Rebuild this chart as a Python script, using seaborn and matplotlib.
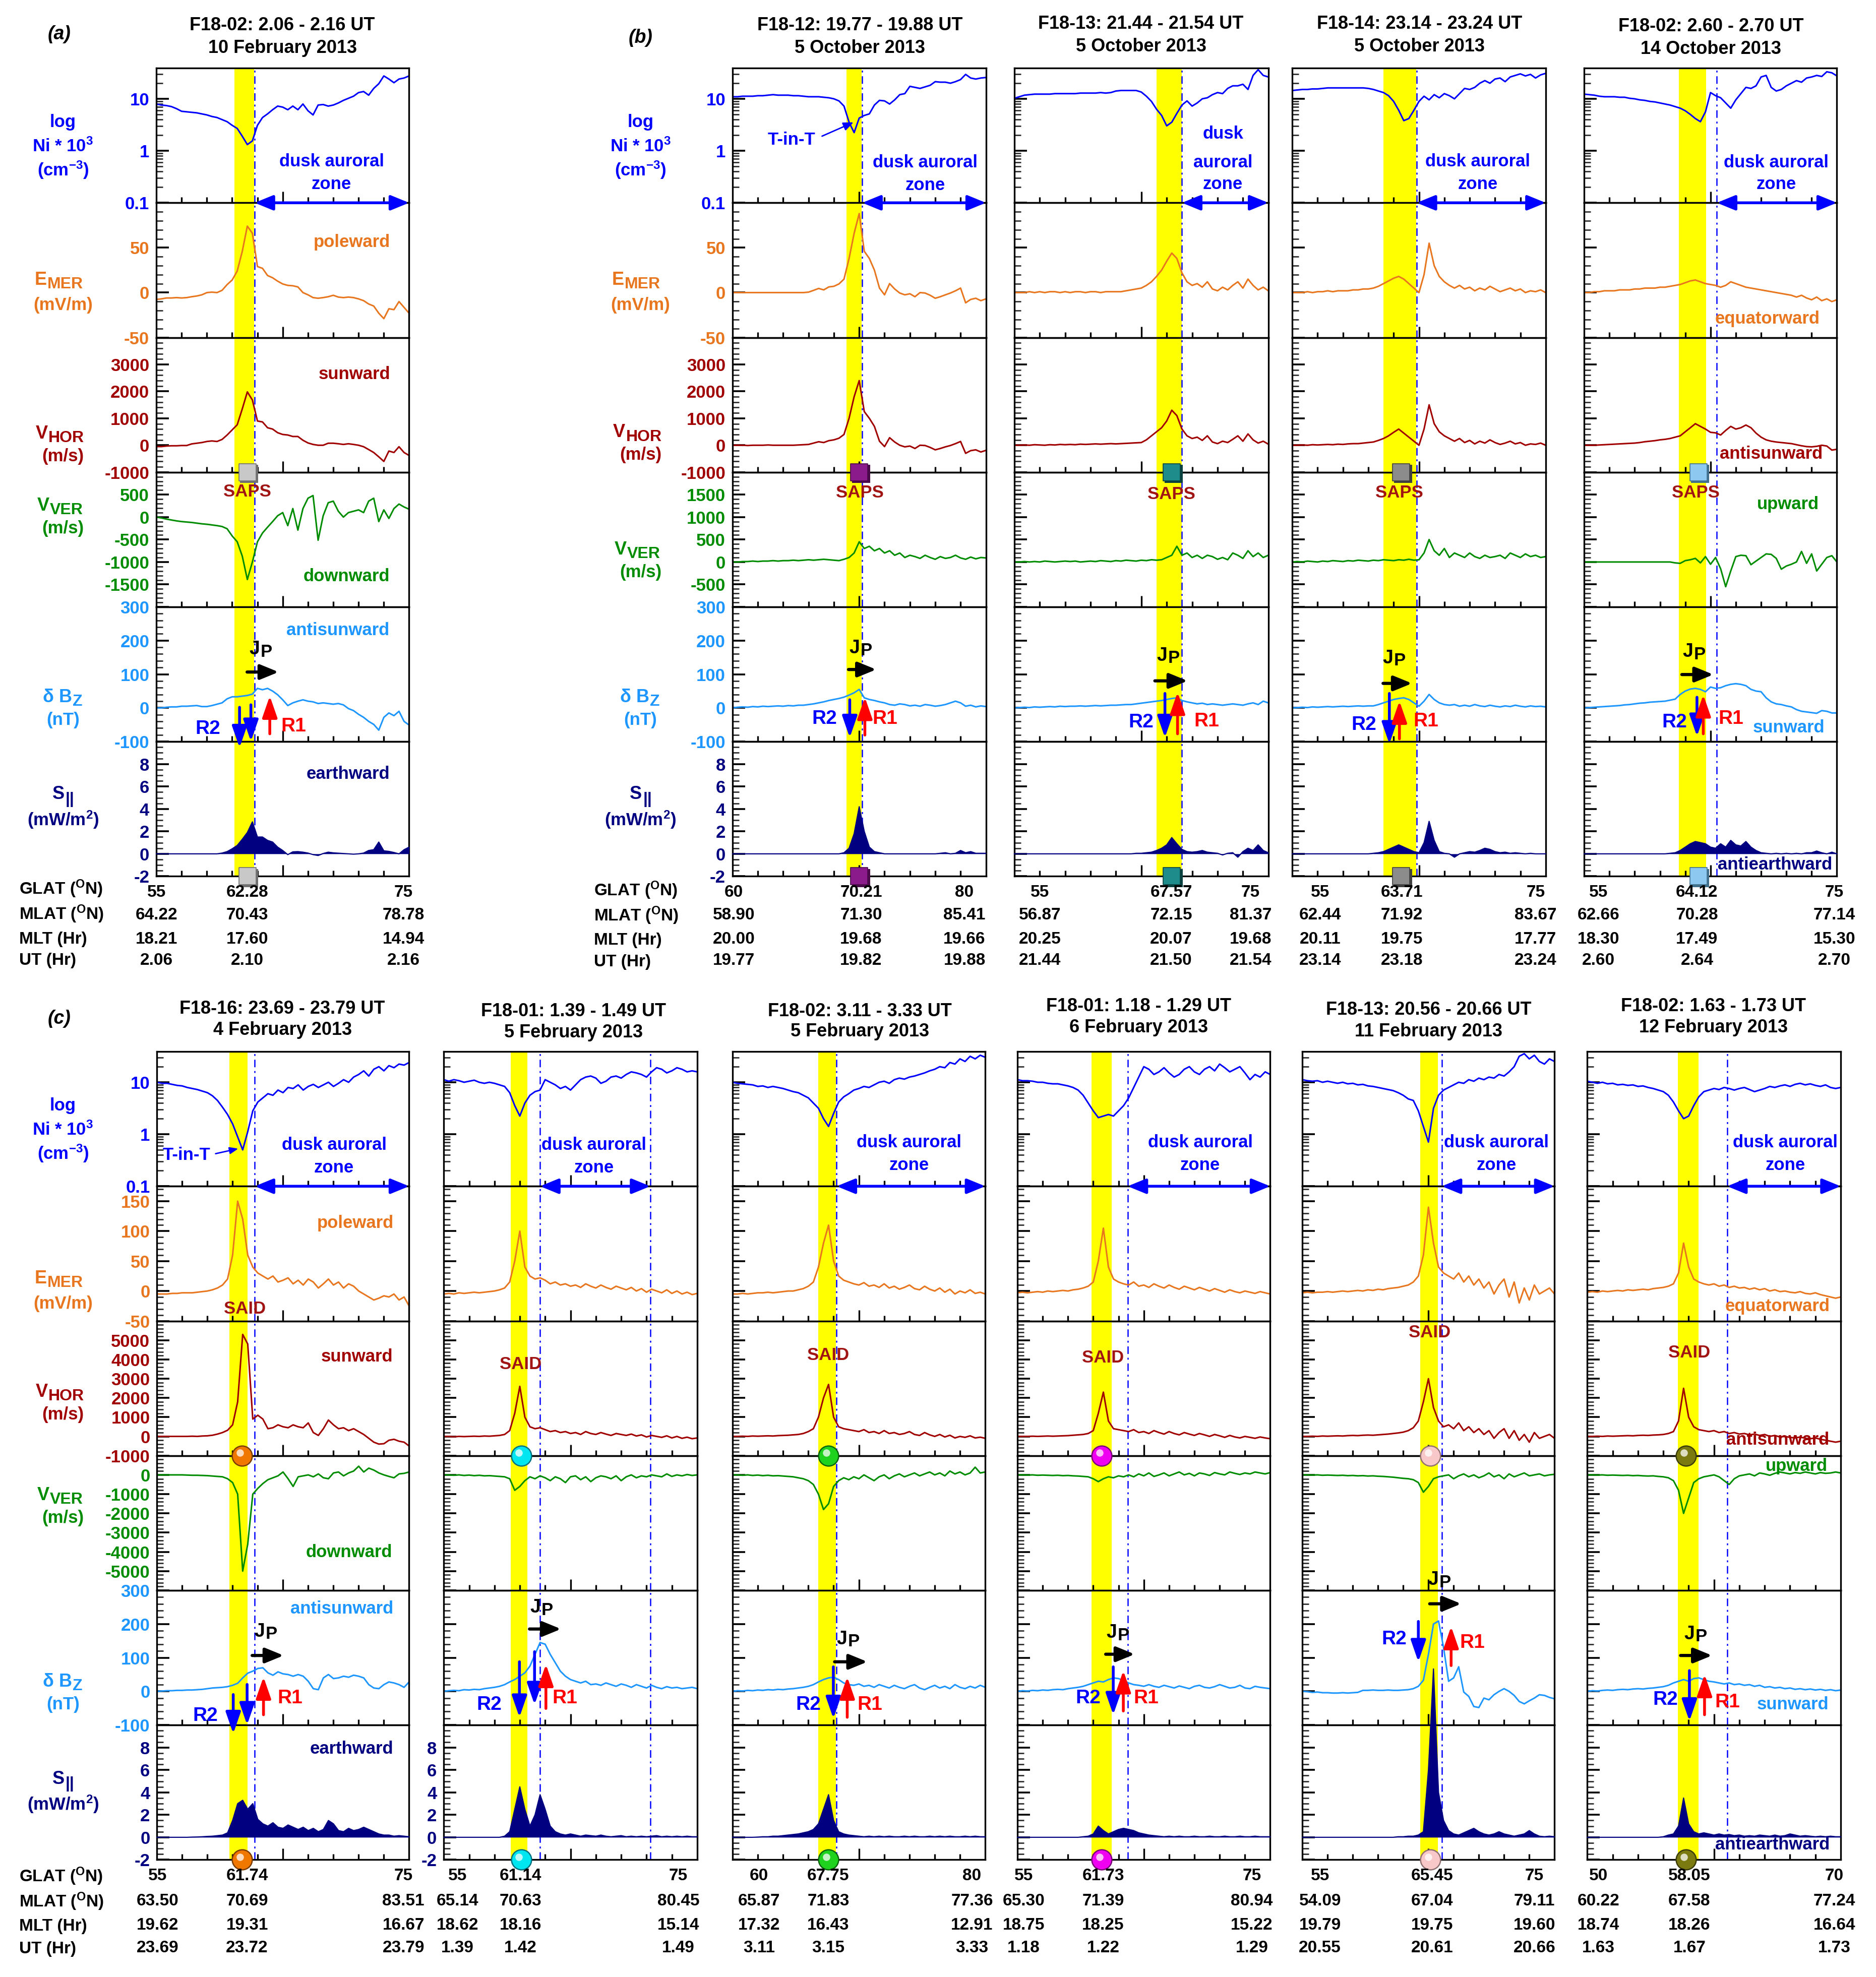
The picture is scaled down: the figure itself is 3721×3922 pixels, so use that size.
import numpy as np
import matplotlib
matplotlib.use("Agg")
import matplotlib.pyplot as plt
import seaborn as sns
from matplotlib.patches import FancyArrowPatch
from matplotlib.transforms import offset_copy
from matplotlib.ticker import FixedLocator, FixedFormatter, MultipleLocator, LogLocator, NullFormatter

# ------------------------------------------------------------------ data
# every trace: 51 samples equally spaced over the pass window (UT)
# rows: log10(Ni*1e3), E_MER (mV/m), V_HOR (m/s), V_VER (m/s), dBz (nT), S|| (mW/m2)

a_logni = [0.90,0.88,0.87,0.85,0.81,0.76,0.75,0.74,0.73,0.71,
           0.69,0.66,0.64,0.60,0.56,0.49,0.43,0.28,0.12,0.19,
           0.49,0.64,0.71,0.79,0.86,0.84,0.79,0.86,0.79,0.90,
           0.77,0.69,0.88,0.89,0.86,0.88,0.92,0.97,1.01,1.05,
           1.12,1.14,1.07,1.20,1.29,1.44,1.38,1.31,1.38,1.40,1.44]
a_emer = [-7.6,-7,-6,-6,-5.6,-6,-5.6,-4.6,-3.8,-2.5,
          0,0.5,0,2.5,8.9,14,24,46,74,66,
          29,27,19,16.5,12.7,9.6,8,7.6,6.3,0,
          -2.5,-5.6,-6.3,-5.6,-4.6,-3,-5,-5.6,-5,-5.6,
          -7,-9,-12.7,-15,-23,-29,-18,-19,-10,-16.5,-23]
a_vhor = [-50,-50,-30,-20,-20,-10,-10,50,75,100,
          140,160,140,215,380,570,760,1350,1980,1680,
          900,865,650,600,465,400,380,325,325,185,
          85,30,0,0,75,75,55,30,55,30,
          0,-55,-160,-270,-430,-600,-215,-270,-55,-270,-380]
a_vver = [0,-20,-45,-65,-85,-100,-110,-120,-135,-150,
          -160,-175,-190,-210,-260,-420,-550,-870,-1390,-1000,
          -550,-355,-225,-100,30,100,-190,190,-290,190,
          420,480,-515,30,320,355,130,0,100,130,
          160,100,355,420,-100,160,-30,190,290,225,175]
a_dbz = [0,0,2,3,3,5,5,6,7,4,
         4,7,11,15,27,33,33,35,37,41,
         58,54,58,50,39,24,7,15,20,24,
         20,18,13,15,13,11,13,9,-2,-8,
         -19,-28,-40,-49,-66,-28,-15,-23,-10,-40,-51]
a_spar = [0,0,0,0,0,0,0,0,0,0,
          0,0,0,0.07,0.2,0.45,0.75,1.3,1.9,2.85,
          1.5,1.5,1.2,1.05,0.6,0.3,-0.07,0.18,0.2,0.15,
          0.07,-0.07,-0.15,0.03,0.15,0.09,0.06,0.03,0,-0.03,
          0,0.07,0.3,0.37,1.05,0.27,0.22,0.12,0,0.37,0.6]

b1_logni = [1.04,1.04,1.05,1.05,1.05,1.06,1.06,1.07,1.08,1.07,
            1.07,1.07,1.06,1.06,1.05,1.04,1.04,1.04,1.03,1.02,
            1.00,0.96,0.86,0.55,0.35,0.63,0.68,0.71,0.88,0.97,
            0.96,0.90,0.98,1.08,1.10,1.24,1.22,1.20,1.23,1.26,
            1.33,1.32,1.32,1.30,1.33,1.37,1.47,1.40,1.38,1.40,1.41]
b1_emer = [0,0,0,0,0,0,0,0,0,0,
           0,0,0,0,0,0.5,2.5,4.6,3,6.3,
           7,9.6,15,38,66,88,46,38,25,5,
           -2.5,10,4,-0.5,-2.5,-1.3,-4.6,0,-0.5,-3,
           -6.3,-4.6,-2.5,-0.5,2,5,-11.4,-7.6,-6.3,-9,-7]
b1_vhor = [0,0,0,-10,0,0,0,10,0,0,
           0,0,0,10,20,30,80,130,100,170,
           200,260,400,1000,1800,2400,1250,1000,700,150,
           -50,280,120,0,-60,-30,-120,0,-10,-80,
           -170,-120,-60,-10,60,140,-300,-200,-170,-250,-190]
b1_vver = [0,0,10,10,20,10,20,20,30,20,
           30,30,40,30,40,50,40,50,60,50,
           40,30,60,100,200,450,300,350,250,300,
           200,250,150,200,100,150,120,80,150,100,
           60,120,80,100,150,90,60,110,70,100,90]
b1_dbz = [0,2,3,2,4,3,5,4,5,6,
          5,7,6,8,8,10,12,15,18,22,
          25,28,32,38,45,55,30,25,22,18,
          15,10,8,12,10,6,8,5,10,8,
          5,7,10,15,20,15,5,8,3,6,4]
b1_spar = [0,0,0,0,0,0,0,0,0,0,
           0,0,0,0,0,0,0,0,0,0,
           0,0,0.1,0.5,1.8,4.2,2.0,0.6,0.2,0.1,
           0,0,0,0,0,0,0,0,0,0,
           0,0.05,0.1,0,0.05,0.3,0.1,0.2,0.05,0.05,0.05]

b2_logni = [1.01,1.04,1.07,1.08,1.09,1.09,1.09,1.09,1.10,1.10,
            1.10,1.10,1.10,1.11,1.11,1.11,1.11,1.12,1.11,1.12,
            1.15,1.16,1.16,1.16,1.16,1.13,1.05,0.95,0.80,0.68,
            0.48,0.55,0.72,0.88,0.96,0.86,0.92,1.00,1.02,1.08,
            1.12,1.10,1.20,1.25,1.25,1.28,1.18,1.45,1.56,1.45,1.42]
b2_emer = [0,0,0,1,0,1,0,1,1,0,
           1,0,1,1,0,1,1,0,1,1,
           1,1,2,3,4,5,8,12,18,25,
           35,44,38,22,12,8,10,6,12,4,
           2,6,3,8,12,5,15,8,3,6,2]
b2_vhor = [0,0,10,0,20,10,0,20,10,30,
           20,30,20,40,30,40,50,40,50,60,
           50,60,70,80,90,100,200,350,500,650,
           900,1300,1100,600,350,250,300,180,350,120,
           60,150,100,220,350,150,420,200,80,150,40]
b2_vver = [0,0,10,0,10,0,20,10,0,10,
           20,10,20,0,10,20,10,30,20,10,
           30,20,40,30,20,40,30,50,40,50,
           100,150,350,150,200,100,150,80,150,120,
           60,100,50,200,150,80,250,120,200,100,150]
b2_dbz = [0,1,2,1,3,2,3,4,3,5,
          4,5,5,6,5,6,7,6,7,8,
          8,9,10,10,12,14,16,18,20,22,
          25,28,30,22,18,15,12,14,10,12,
          10,8,10,12,10,8,12,15,10,20,15]
b2_spar = [0,0,0,0,0,0,0,0,0,0,
           0,0,0,0,0,0,0,0,0,0,
           0,0,0,0,0.05,0.05,0.1,0.15,0.3,0.5,
           0.8,1.45,0.9,0.4,0.2,0.15,0.2,0.3,0.15,0.1,
           0.05,-0.1,0.05,0.1,-0.3,0.2,0.5,0.3,0.8,0.3,0.1]

b3_logni = [1.16,1.17,1.18,1.18,1.19,1.19,1.20,1.21,1.21,1.21,
            1.21,1.21,1.21,1.21,1.21,1.20,1.18,1.15,1.12,1.06,
            0.95,0.78,0.58,0.62,0.78,0.95,1.05,0.98,1.08,1.02,
            1.10,1.06,1.00,1.10,1.20,1.18,1.22,1.30,1.35,1.30,
            1.38,1.40,1.33,1.42,1.45,1.48,1.44,1.47,1.40,1.46,1.49]
b3_emer = [0,0,0,1,0,1,1,2,1,2,
           2,2,3,3,4,4,5,7,10,13,
           16,18,15,10,5,0,20,55,30,18,
           12,8,5,8,4,6,2,5,3,7,
           4,1,3,5,2,4,0,2,1,3,0]
b3_vhor = [0,0,10,0,20,10,20,30,20,40,
           30,50,60,60,80,100,120,180,250,350,
           480,600,450,300,150,0,600,1500,800,500,
           350,250,150,250,100,180,50,150,80,200,
           100,30,80,150,50,100,0,50,30,80,0]
b3_vver = [0,10,0,20,10,0,20,10,30,20,
           10,30,20,40,30,20,40,30,50,40,
           30,50,40,60,40,50,200,500,250,150,
           300,100,200,150,100,200,120,80,150,100,
           120,150,80,200,150,100,180,120,150,100,120]
b3_dbz = [0,1,2,1,3,2,3,4,3,4,
          5,4,5,6,5,6,6,10,15,20,
          25,28,30,25,15,5,20,40,25,15,
          10,8,10,5,8,5,10,6,4,8,
          5,3,6,4,8,5,3,6,4,5,3]
b3_spar = [0,0,0,0,0,0,0,0,0,0,
           0,0,0,0,0,0,0.05,0.1,0.2,0.4,
           0.6,0.8,0.6,0.4,0.2,0.1,1.0,2.9,1.2,0.2,
           0.05,0,-0.3,0,0.1,0.2,0.15,0.3,0.5,0.4,
           0.2,0.1,0.15,0.05,0.1,0.05,0,0.05,0,0,0]

b4_logni = [1.09,1.08,1.07,1.05,1.04,1.04,1.04,1.03,1.03,1.01,
            1.00,0.98,0.97,0.95,0.94,0.92,0.90,0.88,0.85,0.82,
            0.77,0.70,0.62,0.56,0.75,1.12,1.06,1.02,0.92,0.82,
            0.98,1.10,1.22,1.20,1.25,1.42,1.45,1.22,1.15,1.18,
            1.25,1.30,1.35,1.32,1.40,1.42,1.45,1.43,1.52,1.50,1.44]
b4_emer = [0,0,1,1,2,2,2,3,3,3,
           4,4,5,5,5,6,6,7,8,9,
           11,13,14,12,10,9,8,6,8,12,
           10,8,6,5,4,3,2,1,0,-1,
           -2,-3,-5,-3,-6,-8,-5,-9,-7,-10,-8]
b4_vhor = [0,0,0,10,20,30,40,50,60,70,
           80,100,130,150,170,200,220,250,300,350,
           500,650,800,700,600,480,460,380,550,700,
           600,650,750,650,450,300,200,150,120,100,
           80,60,20,-20,-50,-60,-40,0,-30,-180,-150]
b4_vver = [0,0,0,0,0,0,0,0,0,0,
           0,0,0,0,0,0,0,0,-20,-30,
           30,50,80,-20,120,-50,100,-150,-550,-200,
           120,150,140,-60,20,100,180,170,80,-160,
           -90,-50,0,235,-30,180,-200,-50,100,140,0]
b4_dbz = [0,1,2,3,4,5,6,7,9,10,
          12,14,15,17,18,19,20,23,26,40,
          50,56,58,55,48,62,58,60,66,70,
          72,70,66,55,50,48,30,18,12,10,
          6,3,-5,-10,-12,-14,-16,-8,-10,-15,-15]
b4_spar = [0,0,0,0,0,0,0,0,0,0,
           0,0,0,0,0,0,0,0.05,0.1,0.3,
           0.6,0.9,1.1,1.0,0.9,0.6,0.5,0.9,0.6,1.2,
           0.8,0.7,1.1,0.6,0.3,0.1,0.05,0,0.05,0,
           0.05,0,0.05,0,0.1,0.1,0.25,0.1,0,0.15,0]

c1_logni = [1.00,0.98,0.98,0.96,0.94,0.93,0.90,0.88,0.86,0.83,
            0.80,0.74,0.65,0.52,0.38,0.20,-0.05,-0.30,0.05,0.45,
            0.62,0.70,0.78,0.75,0.85,0.80,0.90,0.88,0.95,0.85,
            0.92,0.96,0.90,0.95,1.00,0.92,0.98,1.05,1.00,1.10,
            1.15,1.22,1.12,1.25,1.30,1.22,1.32,1.28,1.35,1.33,1.38]
c1_emer = [-5,-5,-5,-4,-4,-3,-3,-3,-2,-1,
           0,2,5,10,20,60,150,120,60,40,
           30,25,20,25,15,18,22,12,18,10,
           20,15,5,12,20,10,15,5,12,8,
           0,-5,-10,-15,-12,-8,-10,-5,-15,-10,-25]
c1_vhor = [0,0,0,0,0,0,0,10,0,20,
           30,60,120,200,320,600,1800,5300,4800,900,
           1100,900,400,450,600,500,450,600,500,450,
           700,200,50,400,850,600,400,450,300,400,
           250,100,-100,-300,-400,-380,-200,-150,-250,-300,-500]
c1_vver = [0,0,0,0,0,0,-10,-20,-20,-30,
           -40,-60,-80,-100,-200,-400,-1000,-5000,-3600,-1000,
           -700,-450,-250,-150,-50,150,-200,-600,-100,-50,
           0,-100,50,-150,-200,100,150,-50,100,200,
           450,150,350,250,100,0,-80,-150,50,80,150]
c1_dbz = [0,1,2,2,3,3,4,4,5,6,
          8,10,11,12,14,18,24,40,54,60,
          68,70,55,48,58,52,50,45,50,45,
          30,8,5,40,50,38,40,45,42,48,
          45,40,20,10,8,20,28,25,20,12,28]
c1_spar = [0,0,0,0,0,0,0,0.02,0.03,0.05,
           0.08,0.1,0.15,0.2,0.4,1.5,3.0,3.3,2.5,3.0,
           1.6,1.2,1.0,1.3,0.9,0.8,1.1,0.9,0.7,0.9,
           0.6,0.8,0.5,0.7,1.5,1.2,0.6,0.5,0.8,0.6,
           0.7,0.9,0.7,0.5,0.3,0.2,0.2,0.1,0.15,0.1,0.05]

c2_logni = [1.05,1.02,1.05,1.03,1.00,1.02,1.04,1.00,0.98,1.00,
            0.98,0.95,0.92,0.80,0.55,0.35,0.60,0.75,0.82,0.85,
            1.05,1.00,0.95,0.88,0.92,0.85,0.95,1.05,1.10,1.12,
            1.08,0.98,1.02,1.10,1.12,1.08,1.15,1.20,1.18,1.15,
            1.10,1.20,1.28,1.25,1.18,1.22,1.28,1.25,1.20,1.22,1.20]
c2_emer = [-5,-4,-5,-3,-4,-3,-2,-3,-2,-1,
           0,2,5,15,50,100,40,25,20,22,
           18,12,15,10,12,8,10,6,12,8,
           5,10,6,3,8,5,2,6,0,4,
           -2,3,0,-3,2,-4,0,-5,-2,-6,-4]
c2_vhor = [0,0,-20,0,-10,0,10,0,20,10,
           30,50,100,300,1200,2600,1000,500,400,450,
           350,250,300,200,250,150,200,100,250,150,
           100,200,120,50,150,100,50,120,20,80,
           -30,50,0,-50,30,-80,0,-100,-40,-120,-80]
c2_vver = [0,0,-20,0,-30,-10,-40,-20,-50,-40,
           -60,-80,-100,-200,-800,-600,-300,-100,-200,-50,
           -150,-300,-100,-200,-400,-100,-50,-250,-100,-350,
           -150,-50,-100,-200,-50,-300,-100,0,-150,-50,
           -100,0,-50,-100,50,-80,0,-50,20,-30,0]
c2_dbz = [0,2,3,2,5,4,6,5,8,10,
          12,15,20,28,35,45,55,75,110,145,
          140,110,85,60,45,35,30,25,30,20,
          22,18,25,20,15,22,18,12,20,15,
          10,18,12,8,14,10,12,8,10,12,8]
c2_spar = [0,0,0,0,0,0,0,0,0,0,
           0,0,0.1,0.5,2.5,4.5,2.5,1.0,2.0,3.8,
           2.5,1.0,0.5,0.3,0.2,0.3,0.2,0.1,0.2,0.15,
           0.1,0.2,0.1,0.05,0.1,0.15,0.05,0.1,0.05,0.1,
           0.05,0.1,0.15,0.05,0.1,0.05,0.1,0.05,0.1,0.05,0.05]

c3_logni = [1.00,0.98,0.97,0.96,0.95,0.92,0.93,0.90,0.92,0.90,
            0.88,0.85,0.82,0.80,0.75,0.70,0.60,0.50,0.30,0.15,
            0.40,0.62,0.72,0.78,0.85,0.88,0.92,0.90,0.95,1.00,
            1.02,0.98,1.05,1.08,1.06,1.10,1.12,1.15,1.18,1.22,
            1.25,1.30,1.28,1.38,1.35,1.45,1.40,1.50,1.45,1.52,1.48]
c3_emer = [-5,-5,-4,-5,-4,-3,-3,-2,-3,-2,
           -1,0,0,2,4,8,15,40,80,110,
           50,25,18,15,12,10,14,8,10,6,
           12,5,8,3,6,10,4,2,8,3,
           0,5,-2,3,-5,0,-3,2,-4,-2,-5]
c3_vhor = [0,0,10,0,20,10,20,30,20,40,
           50,60,80,100,150,250,400,1000,2000,2700,
           1000,500,400,350,300,250,350,200,250,150,
           300,150,200,100,150,250,100,50,200,80,
           0,100,-30,60,-80,0,-50,30,-80,-40,-100]
c3_vver = [0,0,-20,0,-30,-10,-40,-20,-50,-40,
           -60,-80,-100,-150,-200,-300,-500,-1000,-1800,-1500,
           -600,-300,-150,-250,-100,-200,0,-150,-300,-100,
           0,-200,-50,50,-100,0,100,-50,50,150,
           0,100,-50,200,50,150,0,100,400,100,150]
c3_dbz = [0,2,1,3,2,4,3,5,4,6,
          5,7,8,10,12,15,20,28,35,40,
          42,35,25,20,18,22,15,18,12,20,
          15,10,18,12,8,15,20,10,5,12,
          18,10,15,8,20,12,8,15,10,18,12]
c3_spar = [0,0,0,0,0,0.02,0.05,0.05,0.1,0.1,
           0.15,0.2,0.25,0.3,0.4,0.5,0.7,1.2,2.5,3.8,
           1.5,0.5,0.3,0.2,0.15,0.1,0.05,0.1,0.05,0.1,
           0.05,0.1,0.05,0.05,0.1,0.05,0.1,0.05,0.05,0.1,
           0.05,0.1,0.05,0.1,0.05,0.05,0.1,0.05,0.1,0.05,0.05]

c4_logni = [1.05,1.03,1.03,1.02,1.00,1.00,0.98,0.97,0.97,0.95,
            0.93,0.90,0.85,0.75,0.60,0.45,0.32,0.35,0.38,0.35,
            0.45,0.55,0.70,0.90,1.10,1.30,1.25,1.15,1.20,1.28,
            1.18,1.10,1.15,1.25,1.30,1.20,1.15,1.25,1.30,1.22,
            1.35,1.28,1.20,1.25,1.30,1.18,1.05,1.15,1.10,1.20,1.15]
c4_emer = [-3,-2,-3,-2,-1,-2,0,-1,0,1,
           0,2,3,5,8,15,50,105,40,20,
           15,12,10,15,8,10,6,12,8,5,
           10,6,3,8,5,2,6,3,0,4,
           1,-2,2,-1,-3,0,-2,-4,-1,-3,-5]
c4_vhor = [0,0,0,10,0,10,20,10,20,30,
           40,60,80,100,150,300,1200,2300,800,400,
           350,300,250,350,200,250,150,300,200,120,
           250,150,80,200,120,50,150,80,0,100,
           30,-50,50,-30,-80,0,-50,-100,-30,-80,-120]
c4_vver = [0,0,-10,0,-20,-10,-20,-30,-20,-40,
           -30,-50,-60,-80,-100,-200,-350,-200,-100,-150,
           -50,-100,0,-100,50,-50,100,-80,0,100,
           -50,50,150,0,80,-50,100,50,-30,120,
           50,0,150,80,20,100,50,150,100,50,120]
c4_dbz = [0,2,1,3,2,4,3,5,6,5,
          8,10,12,15,20,25,30,28,35,40,
          38,32,25,20,18,15,20,15,12,18,
          14,10,16,12,8,15,18,12,10,14,
          20,15,10,12,18,10,8,15,12,10,8]
c4_spar = [0,0,0,0,0,0,0,0,0,0,
           0,0,0,0.05,0.1,0.3,1.0,0.6,0.3,0.5,
           0.7,0.8,0.7,0.6,0.4,0.3,0.2,0.15,0.1,0.05,
           0.1,0.05,0.1,0.05,0.05,0.1,0.05,0.05,0.1,0.05,
           0.05,0.1,0.05,0.05,0.1,0.05,0.05,0.1,0.05,0.05,0.05]

c5_logni = [1.05,1.03,1.02,1.03,1.00,1.02,1.00,0.98,1.00,0.97,
            0.98,0.95,0.96,0.93,0.92,0.90,0.88,0.86,0.84,0.80,
            0.75,0.68,0.65,0.45,0.15,-0.15,0.50,0.75,0.85,0.90,
            0.95,1.00,0.98,1.05,1.02,1.08,1.05,1.10,1.08,1.15,
            1.12,1.20,1.30,1.50,1.55,1.45,1.52,1.40,1.35,1.45,1.40]
c5_emer = [-3,-2,-3,-2,-2,-1,-2,-1,0,-1,
           0,1,0,2,1,3,2,4,5,6,
           8,10,15,25,60,140,80,40,30,25,
           20,30,15,25,10,20,5,15,-5,10,
           20,-10,15,-20,5,-15,10,-5,0,5,-5]
c5_vhor = [0,0,10,0,20,10,20,30,20,40,
           50,40,60,70,60,80,100,120,150,180,
           220,300,450,800,1800,3000,1500,800,500,600,
           400,700,300,500,200,400,100,300,-100,200,
           400,-100,300,-200,100,-300,200,-100,0,100,-100]
c5_vver = [0,0,-10,0,-20,-10,-20,-30,-20,-40,
           -30,-50,-40,-60,-50,-70,-80,-100,-120,-150,
           -180,-200,-250,-400,-900,-600,-200,-100,-50,0,
           -200,-50,50,-100,0,-150,-50,100,-100,0,
           -200,50,-100,0,100,-50,0,50,-50,0,30]
c5_dbz = [0,-1,-3,-2,-4,-4,-5,-5,-4,-5,
          -4,-3,3,3,4,3,3,4,3,3,
          4,5,8,15,33,110,200,209,130,30,
          40,73,-2,-15,-45,-48,-20,-25,-10,0,
          8,0,-12,-30,-37,-28,-20,-10,-12,-18,-22]
c5_spar = [0,0,0,0,0,0,0,0,0,0,
           0,0,0,0,0,0,0,0,0,0.05,
           0.05,0.1,0.1,0.2,0.5,6.0,15.0,4.0,1.5,0.6,
           0.3,0.2,0.4,0.6,0.8,0.5,0.3,0.2,0.3,0.5,
           0.3,0.2,0.1,0.2,0.3,0.6,0.3,0.1,0.05,0.1,0.05]

c6_logni = [1.02,1.00,0.98,1.00,0.97,0.98,0.95,0.96,0.94,0.95,
            0.92,0.93,0.90,0.88,0.85,0.82,0.75,0.62,0.45,0.30,
            0.35,0.55,0.72,0.82,0.85,0.88,0.86,0.90,0.88,0.85,
            0.88,0.90,0.86,0.82,0.85,0.88,0.92,0.90,0.93,0.95,
            0.92,0.96,0.98,0.95,0.97,0.94,0.92,0.95,0.90,0.88,0.90]
c6_emer = [-2,-1,-2,0,-1,0,1,0,2,1,
           2,3,2,4,5,6,8,12,30,80,
           40,20,15,12,10,12,8,10,6,8,
           5,6,3,5,2,4,0,2,-1,0,
           -2,-3,-1,-4,-5,-3,-6,-8,-10,-12,-10]
c6_vhor = [0,0,10,0,20,10,20,30,40,30,
           50,60,50,70,80,100,150,250,800,2500,
           1000,500,350,300,250,300,200,250,150,200,
           120,150,80,120,50,100,0,50,-30,0,
           -50,-80,-30,-100,-120,-80,-150,-200,-250,-300,-250]
c6_vver = [0,0,-10,0,-20,-10,-20,-30,-20,-40,
           -30,-50,-60,-50,-80,-100,-150,-300,-800,-2000,
           -1200,-400,-200,-100,-50,0,-100,-300,-500,-200,
           -50,0,50,-50,100,50,-20,80,150,100,
           50,120,80,150,100,50,120,80,100,150,100]
c6_dbz = [0,2,1,3,4,3,5,6,5,7,
          8,7,9,10,12,14,18,25,30,35,
          30,38,40,35,30,28,25,22,25,20,
          22,18,20,15,18,12,14,10,12,8,
          10,6,8,5,7,4,6,3,5,2,4]
c6_spar = [0,0,0,0,0,0,0,0,0,0,
           0,0,0,0,0,0.05,0.2,0.3,1.0,3.5,
           1.2,0.5,0.3,0.4,0.3,0.2,0.3,0.2,0.25,0.15,
           0.2,0.1,0.15,0.1,0.2,0.15,0.1,0.2,0.1,0.15,
           0.3,0.2,0.1,0.15,0.1,0.05,0.1,0.05,0.1,0.05,0.05]

# pass windows (UT hours) and headers
ut_windows = {'a': (2.06, 2.16), 'b1': (19.77, 19.88), 'b2': (21.44, 21.54), 'b3': (23.14, 23.24),
              'b4': (2.60, 2.70), 'c1': (23.69, 23.79), 'c2': (1.39, 1.49), 'c3': (3.11, 3.33),
              'c4': (1.18, 1.29), 'c5': (20.55, 20.66), 'c6': (1.63, 1.73)}
titles = {'a': ('F18-02: 2.06 - 2.16 UT', '10 February 2013'),
          'b1': ('F18-12: 19.77 - 19.88 UT', '5 October 2013'),
          'b2': ('F18-13: 21.44 - 21.54 UT', '5 October 2013'),
          'b3': ('F18-14: 23.14 - 23.24 UT', '5 October 2013'),
          'b4': ('F18-02: 2.60 - 2.70 UT', '14 October 2013'),
          'c1': ('F18-16: 23.69 - 23.79 UT', '4 February 2013'),
          'c2': ('F18-01: 1.39 - 1.49 UT', '5 February 2013'),
          'c3': ('F18-02: 3.11 - 3.33 UT', '5 February 2013'),
          'c4': ('F18-01: 1.18 - 1.29 UT', '6 February 2013'),
          'c5': ('F18-13: 20.56 - 20.66 UT', '11 February 2013'),
          'c6': ('F18-02: 1.63 - 1.73 UT', '12 February 2013')}
geo_labels = {
    'a':  (['55', '62.28', '75'], ['64.22', '70.43', '78.78'], ['18.21', '17.60', '14.94'], ['2.06', '2.10', '2.16']),
    'b1': (['60', '70.21', '80'], ['58.90', '71.30', '85.41'], ['20.00', '19.68', '19.66'], ['19.77', '19.82', '19.88']),
    'b2': (['55', '67.57', '75'], ['56.87', '72.15', '81.37'], ['20.25', '20.07', '19.68'], ['21.44', '21.50', '21.54']),
    'b3': (['55', '63.71', '75'], ['62.44', '71.92', '83.67'], ['20.11', '19.75', '17.77'], ['23.14', '23.18', '23.24']),
    'b4': (['55', '64.12', '75'], ['62.66', '70.28', '77.14'], ['18.30', '17.49', '15.30'], ['2.60', '2.64', '2.70']),
    'c1': (['55', '61.74', '75'], ['63.50', '70.69', '83.51'], ['19.62', '19.31', '16.67'], ['23.69', '23.72', '23.79']),
    'c2': (['55', '61.14', '75'], ['65.14', '70.63', '80.45'], ['18.62', '18.16', '15.14'], ['1.39', '1.42', '1.49']),
    'c3': (['60', '67.75', '80'], ['65.87', '71.83', '77.36'], ['17.32', '16.43', '12.91'], ['3.11', '3.15', '3.33']),
    'c4': (['55', '61.73', '75'], ['65.30', '71.39', '80.94'], ['18.75', '18.25', '15.22'], ['1.18', '1.22', '1.29']),
    'c5': (['55', '65.45', '75'], ['54.09', '67.04', '79.11'], ['19.79', '19.75', '19.60'], ['20.55', '20.61', '20.66']),
    'c6': (['50', '58.05', '70'], ['60.22', '67.58', '77.24'], ['18.74', '18.26', '16.64'], ['1.63', '1.67', '1.73']),
}
series = {
    'a': (a_logni, a_emer, a_vhor, a_vver, a_dbz, a_spar),
    'b1': (b1_logni, b1_emer, b1_vhor, b1_vver, b1_dbz, b1_spar),
    'b2': (b2_logni, b2_emer, b2_vhor, b2_vver, b2_dbz, b2_spar),
    'b3': (b3_logni, b3_emer, b3_vhor, b3_vver, b3_dbz, b3_spar),
    'b4': (b4_logni, b4_emer, b4_vhor, b4_vver, b4_dbz, b4_spar),
    'c1': (c1_logni, c1_emer, c1_vhor, c1_vver, c1_dbz, c1_spar),
    'c2': (c2_logni, c2_emer, c2_vhor, c2_vver, c2_dbz, c2_spar),
    'c3': (c3_logni, c3_emer, c3_vhor, c3_vver, c3_dbz, c3_spar),
    'c4': (c4_logni, c4_emer, c4_vhor, c4_vver, c4_dbz, c4_spar),
    'c5': (c5_logni, c5_emer, c5_vhor, c5_vver, c5_dbz, c5_spar),
    'c6': (c6_logni, c6_emer, c6_vhor, c6_vver, c6_dbz, c6_spar),
}

# ------------------------------------------------------------------ style
sns.set_theme(style="ticks")
plt.rcParams['font.family'] = ['Liberation Sans', 'DejaVu Sans']
plt.rcParams['font.weight'] = 'bold'
plt.rcParams['mathtext.fontset'] = 'custom'
plt.rcParams['mathtext.rm'] = 'Liberation Sans:bold'
plt.rcParams['mathtext.it'] = 'Liberation Sans:italic:bold'
plt.rcParams['mathtext.bf'] = 'Liberation Sans:bold'
plt.rcParams['mathtext.default'] = 'rm'
plt.rcParams['axes.unicode_minus'] = False

C_N, C_E, C_VH, C_VV, C_BZ, C_S = '#0000FF', '#E8761E', '#A00000', '#008C00', '#1E96FF', '#000080'
C_SAPS, C_YEL = '#A01414', '#FFFF00'
ROWC = [C_N, C_E, C_VH, C_VV, C_BZ, C_S]

SW, SH = 1488.0, 1568.0  # layout grid


def fx(x):
    return x / SW


def fy(y):
    return 1.0 - y / SH


fig = plt.figure(figsize=(37.21, 39.22), dpi=100)

LAY = {
    'a':  dict(x=(124.0, 324.5), rows=(54, 695), band=(0.308, 0.387), dash=(0.389,), zone=(0.389, 1.0), mark=0.36,
               mshape='s', mcolor='#C8C8C8', medge='#707070', title=(224, 20, 38), gx=(124, 196, 320)),
    'b1': dict(x=(581.0, 782.0), rows=(54, 695), band=(0.45, 0.51), dash=(0.512,), zone=(0.512, 1.0), mark=0.50,
               mshape='s', mcolor='#8B1A8B', medge='#4A0A4A', title=(682, 20, 38), gx=(582, 683, 765)),
    'b2': dict(x=(804.5, 1006.0), rows=(54, 695), band=(0.561, 0.659), dash=(0.66,), zone=(0.66, 1.0), mark=0.62,
               mshape='s', mcolor='#1F8C8C', medge='#0A4040', title=(905, 19, 37), gx=(825, 929, 992)),
    'b3': dict(x=(1025.0, 1226.0), rows=(54, 695), band=(0.36, 0.49), dash=(0.491,), zone=(0.491, 1.0), mark=0.43,
               mshape='s', mcolor='#8C8C8C', medge='#404040', title=(1126, 19, 37), gx=(1047, 1112, 1218)),
    'b4': dict(x=(1256.5, 1457.0), rows=(54, 695), band=(0.375, 0.482), dash=(0.525,), zone=(0.525, 1.0), mark=0.452,
               mshape='s', mcolor='#8CC8F0', medge='#40708C', title=(1357, 21, 39), gx=(1268, 1346, 1455)),
    'c1': dict(x=(124.5, 324.5), rows=(834, 1475), band=(0.288, 0.359), dash=(0.388,), zone=(0.388, 1.0), mark=0.337,
               mshape='o', mcolor='#F07800', medge='#7A3C00', title=(224, 800, 817), gx=(125, 196, 320)),
    'c2': dict(x=(352.0, 553.0), rows=(834, 1475), band=(0.265, 0.33), dash=(0.38, 0.815), zone=(0.38, 0.815), mark=0.305,
               mshape='o', mcolor='#00E6F0', medge='#007080', title=(455, 802, 819), gx=(363, 413, 538)),
    'c3': dict(x=(581.0, 781.5), rows=(834, 1475), band=(0.34, 0.41), dash=(0.412,), zone=(0.412, 1.0), mark=0.38,
               mshape='o', mcolor='#1ED21E', medge='#0A640A', title=(682, 802, 818), gx=(602, 657, 771)),
    'c4': dict(x=(807.0, 1007.5), rows=(834, 1475), band=(0.294, 0.373), dash=(0.436,), zone=(0.436, 1.0), mark=0.333,
               mshape='o', mcolor='#F000F0', medge='#780078', title=(903, 798, 815), gx=(812, 875, 993)),
    'c5': dict(x=(1033.0, 1233.0), rows=(834, 1475), band=(0.467, 0.538), dash=(0.553,), zone=(0.553, 1.0), mark=0.508,
               mshape='o', mcolor='#F8C8C8', medge='#907070', title=(1133, 801, 818), gx=(1047, 1136, 1217)),
    'c6': dict(x=(1259.0, 1460.0), rows=(834, 1475), band=(0.357, 0.438), dash=(0.552,), zone=(0.552, 1.0), mark=0.39,
               mshape='o', mcolor='#7A7A10', medge='#3C3C08', title=(1359, 798, 815), gx=(1268, 1340, 1455)),
}


def yspec(r, key):
    bot = key.startswith('c')
    if r == 0:
        return (0.1, 39), [0.1, 1, 10], None
    if r == 1:
        return ((-50, 175), [-50, 0, 50, 100, 150], 10) if bot else ((-50, 100), [-50, 0, 50], 10)
    if r == 2:
        return ((-1000, 6000), [-1000, 0, 1000, 2000, 3000, 4000, 5000], 200) if bot else \
               ((-1000, 4000), [-1000, 0, 1000, 2000, 3000], 200)
    if r == 3:
        if bot:
            return (-6000, 1000), [-5000, -4000, -3000, -2000, -1000, 0], 200
        if key == 'a':
            return (-2000, 1000), [-1500, -1000, -500, 0, 500], 100
        return (-1000, 2000), [-500, 0, 500, 1000, 1500], 100
    if r == 4:
        return (-100, 300), [-100, 0, 100, 200, 300], 20
    return (-2, 10), [-2, 0, 2, 4, 6, 8], 0.5


def label_fmt(v):
    return '0.1' if v == 0.1 else '%d' % v


def farrow(xa, ya, xb, yb, color, lw, style):
    p = FancyArrowPatch((fx(xa), fy(ya)), (fx(xb), fy(yb)), transform=fig.transFigure, arrowstyle=style,
                        color=color, lw=lw, shrinkA=0, shrinkB=0, mutation_scale=1, zorder=12)
    fig.add_artist(p)


def ftext(x, y, s, color='black', size=26, ha='center', style='normal'):
    fig.text(fx(x), fy(y), s, ha=ha, va='center', color=color, fontsize=size, weight='bold',
             fontstyle=style, zorder=10)


def build(key):
    L = LAY[key]
    x0, x1 = L['x']
    ytop, ybot = L['rows']
    rh = (ybot - ytop) / 6.0
    ut0, ut1 = ut_windows[key]
    span = ut1 - ut0
    axes = []
    for r in range(6):
        ax = fig.add_axes([fx(x0), fy(ytop + (r + 1) * rh), (x1 - x0) / SW, rh / SH])
        ax.patch.set_visible(False)
        ax.set_zorder(4 if r in (2, 5) else 2)
        if r == 0:
            ax.set_yscale('log')
        lim, majors, minor = yspec(r, key)
        ax.axvspan(ut0 + L['band'][0] * span, ut0 + L['band'][1] * span, color=C_YEL, lw=0, zorder=0)
        for d in L['dash']:
            ax.axvline(ut0 + d * span, color=C_N, lw=1.8, ls=(0, (6, 3, 1.5, 3)), zorder=1)
        vals = np.asarray(series[key][r], dtype=float)
        xs = np.linspace(ut0, ut1, len(vals))
        if r == 0:
            sns.lineplot(x=xs, y=10 ** vals, ax=ax, color=C_N, lw=2.2, legend=False)
        elif r == 5:
            ax.fill_between(xs, 0, vals, color=C_S, lw=0, clip_on=False, zorder=3)
            sns.lineplot(x=xs, y=vals, ax=ax, color=C_S, lw=1.6, legend=False, clip_on=False, zorder=3)
        else:
            sns.lineplot(x=xs, y=vals, ax=ax, color=ROWC[r], lw=2.2, legend=False)
        ax.set_xlim(ut0, ut1)
        ax.set_ylim(*lim)
        ax.set_xlabel('')
        ax.set_ylabel('')
        for s in ax.spines.values():
            s.set_visible(True)
            s.set_linewidth(2.4)
            s.set_color('black')
        ax.xaxis.set_major_locator(FixedLocator([ut0 + 0.5 * span]))
        ax.xaxis.set_minor_locator(FixedLocator([ut0 + i * span / 10 for i in (1, 2, 3, 4, 6, 7, 8, 9)]))
        ax.tick_params(axis='x', which='major', direction='in', length=16, width=2.4, color='black',
                       bottom=True, top=False, labelbottom=False)
        ax.tick_params(axis='x', which='minor', direction='in', length=8, width=2.4, color='black',
                       bottom=True, top=False, labelbottom=False)
        ax.yaxis.set_major_locator(FixedLocator(majors))
        ax.yaxis.set_major_formatter(FixedFormatter([label_fmt(v) for v in majors]))
        if r == 0:
            ax.yaxis.set_minor_locator(LogLocator(base=10, subs=np.arange(2, 10)))
        else:
            ax.yaxis.set_minor_locator(MultipleLocator(minor))
        ax.yaxis.set_minor_formatter(NullFormatter())
        show = key in ('a', 'b1', 'c1') or (key == 'c2' and r == 5)
        ax.tick_params(axis='y', which='major', direction='in', length=18, width=2.6, color='black',
                       left=True, right=False, labelleft=show, labelsize=25, labelcolor=ROWC[r], pad=10)
        ax.tick_params(axis='y', which='minor', direction='in', length=9, width=2.0, color='#303030',
                       left=True, right=False)
        axes.append(ax)
    # SAPS / SAID markers
    xm = ut0 + L['mark'] * span
    for ax, yv in ((axes[2], -1000), (axes[5], -2)):
        if L['mshape'] == 's':
            shadow = offset_copy(ax.transData, fig=fig, x=2.5, y=-2.5, units='points')
            ax.scatter([xm], [yv], marker='s', s=640, color=L['medge'], linewidths=0, clip_on=False,
                       zorder=19, transform=shadow)
            sns.scatterplot(x=[xm], y=[yv], ax=ax, marker='s', s=600, color=L['mcolor'],
                            edgecolor=L['medge'], linewidth=1.2, clip_on=False, zorder=20, legend=False)
        else:
            sns.scatterplot(x=[xm], y=[yv], ax=ax, marker='o', s=820, color=L['mcolor'],
                            edgecolor=L['medge'], linewidth=1.8, clip_on=False, zorder=20, legend=False)
            hl = offset_copy(ax.transData, fig=fig, x=-3, y=4, units='points')
            ax.scatter([xm], [yv], marker='o', s=110, color='white', alpha=0.75, linewidths=0,
                       clip_on=False, zorder=21, transform=hl)
        ax.set_xlabel('')
        ax.set_ylabel('')
    # headers
    tx, ty1, ty2 = L['title']
    ftext(tx, ty1, titles[key][0], size=26)
    ftext(tx, ty2, titles[key][1], size=26)
    # dusk auroral zone double arrow
    za, zb = L['zone']
    farrow(x0 + za * (x1 - x0), ytop + rh, x0 + zb * (x1 - x0), ytop + rh, C_N, 4.0,
           '<|-|>,head_length=22,head_width=9')
    # geo rows
    gy = (708, 726, 745, 762) if ytop < 500 else (1488, 1508, 1527, 1545)
    for row, yy in zip(geo_labels[key], gy):
        for txt, xx in zip(row, L['gx']):
            ftext(xx, yy, txt, size=24)
    return axes


for k in LAY:
    build(k)

# panel letters
ftext(47, 27, '(a)', size=27, style='italic')
ftext(508, 30, '(b)', size=27, style='italic')
ftext(47, 808, '(c)', size=27, style='italic')


# quantity names (main letter + lowered subscript word)
def sub_label(xc, y1, y2, main, sub, unit, color, split):
    xs = xc + split
    ftext(xs, y1, main, color=color, size=26, ha='right')
    ftext(xs + 0.5, y1 + 3.5, sub, color=color, size=23, ha='left')
    ftext(xc, y2, unit, color=color, size=25)


def name_block(xc, ys):
    ln, le, lvh, lvv, lb, ls = ys
    ftext(xc, ln - 19, 'log', color=C_N, size=25)
    ftext(xc, ln, 'Ni * 10$^3$', color=C_N, size=25)
    ftext(xc, ln + 19, '(cm$^{-3}$)', color=C_N, size=25)
    sub_label(xc, le - 10, le + 10, 'E', 'MER', '(mV/m)', C_E, -13)
    sub_label(xc, lvh - 9, lvh + 9, 'V', 'HOR', '(m/s)', C_VH, -12)
    sub_label(xc, lvv - 9, lvv + 9, 'V', 'VER', '(m/s)', C_VV, -11)
    sub_label(xc, lb - 9, lb + 9, 'δ B', 'Z', '(nT)', C_BZ, 7)
    ftext(xc + 1, ls - 10, 'S', color=C_S, size=26, ha='right')
    ftext(xc + 2, ls - 6, '||', color=C_S, size=23, ha='left')
    ftext(xc, ls + 10, '(mW/m$^2$)', color=C_S, size=25)


name_block(50, [116, 232, 353, 410, 562, 640])
name_block(508, [116, 232, 352, 445, 562, 640])
name_block(50, [896, 1024, 1113, 1195, 1343, 1421])

# geo row headers
heads = ['GLAT ($^{O}$N)', 'MLAT ($^{O}$N)', 'MLT (Hr)', 'UT (Hr)']
for h, yy in zip(heads, (705, 725, 745, 762)):
    ftext(15, yy, h, size=24, ha='left')
for h, yy in zip(heads, (706, 726, 746, 763)):
    ftext(471, yy, h, size=24, ha='left')
for h, yy in zip(heads, (1488, 1508, 1528, 1546)):
    ftext(15, yy, h, size=24, ha='left')

# word annotations
words = [
    (263, 128, 'dusk auroral', C_N), (263, 146, 'zone', C_N), (279, 192, 'poleward', C_E),
    (281, 297, 'sunward', C_VH), (196, 390, 'SAPS', C_SAPS), (275, 457, 'downward', C_VV),
    (268, 500, 'antisunward', C_BZ), (276, 614, 'earthward', C_S),
    (734, 129, 'dusk auroral', C_N), (734, 147, 'zone', C_N), (682, 391, 'SAPS', C_SAPS),
    (970, 106, 'dusk', C_N), (970, 129, 'auroral', C_N), (970, 146, 'zone', C_N), (929, 392, 'SAPS', C_SAPS),
    (1172, 128, 'dusk auroral', C_N), (1172, 146, 'zone', C_N), (1110, 391, 'SAPS', C_SAPS),
    (1409, 129, 'dusk auroral', C_N), (1409, 146, 'zone', C_N), (1402, 253, 'equatorward', C_E),
    (1405, 360, 'antisunward', C_VH), (1345, 391, 'SAPS', C_SAPS), (1418, 400, 'upward', C_VV),
    (1419, 577, 'sunward', C_BZ), (1408, 686, 'antiearthward', C_S),
    (265, 908, 'dusk auroral', C_N), (265, 926, 'zone', C_N), (282, 970, 'poleward', C_E),
    (194, 1038, 'SAID', C_SAPS), (283, 1076, 'sunward', C_VH), (277, 1231, 'downward', C_VV),
    (271, 1276, 'antisunward', C_BZ), (279, 1387, 'earthward', C_S),
    (471, 908, 'dusk auroral', C_N), (471, 926, 'zone', C_N), (413, 1082, 'SAID', C_SAPS),
    (721, 906, 'dusk auroral', C_N), (721, 924, 'zone', C_N), (657, 1075, 'SAID', C_SAPS),
    (952, 906, 'dusk auroral', C_N), (952, 924, 'zone', C_N), (875, 1077, 'SAID', C_SAPS),
    (1187, 906, 'dusk auroral', C_N), (1187, 924, 'zone', C_N), (1134, 1057, 'SAID', C_SAPS),
    (1416, 906, 'dusk auroral', C_N), (1416, 924, 'zone', C_N), (1410, 1036, 'equatorward', C_E),
    (1340, 1073, 'SAID', C_SAPS), (1410, 1142, 'antisunward', C_VH), (1425, 1163, 'upward', C_VV),
    (1422, 1352, 'sunward', C_BZ), (1406, 1463, 'antiearthward', C_S),
]
for xx, yy, s, c in words:
    ftext(xx, yy, s, color=c, size=25)

# trough-in-trough pointers
ftext(628, 111, 'T-in-T', color=C_N, size=25)
farrow(652, 108, 677, 97, C_N, 2.0, '-|>,head_length=12,head_width=5')
ftext(148, 916, 'T-in-T', color=C_N, size=25)
farrow(171, 915, 189, 911, C_N, 2.0, '-|>,head_length=10,head_width=4')

# current systems: Jp, R2 (blue, down) and R1 (red, up)
currents = [
    ((207, 515), (196, 221, 533), (165, 578), [(190, 561, 593), (199, 559, 588)], (214, 582, 552), (233, 576)),
    ((683, 514), (673, 695, 531), (654, 570), [(674, 555, 585)], (686, 583, 553), (702, 570)),
    ((927, 520), (916, 942, 540), (905, 573), [(924, 550, 585)], (934, 582, 549), (957, 572)),
    ((1106, 522), (1097, 1120, 542), (1082, 575), [(1102, 550, 590)], (1110, 586, 556), (1131, 572)),
    ((1344, 517), (1334, 1359, 535), (1328, 573), [(1346, 553, 584)], (1351, 582, 551), (1373, 570)),
    ((211, 1294), (200, 225, 1313), (163, 1361), [(185, 1344, 1375), (196, 1336, 1368)], (209, 1360, 1330), (230, 1347)),
    ((430, 1275), (420, 445, 1292), (388, 1352), [(412, 1318, 1362), (424, 1310, 1352)], (433, 1355, 1320), (448, 1347)),
    ((673, 1300), (662, 688, 1318), (641, 1352), [(661, 1322, 1363)], (672, 1362, 1330), (690, 1352)),
    ((887, 1295), (877, 900, 1312), (863, 1347), [(883, 1322, 1360)], (891, 1357, 1325), (909, 1347)),
    ((1142, 1253), (1134, 1159, 1272), (1106, 1300), [(1125, 1286, 1318)], (1151, 1321, 1290), (1168, 1303)),
    ((1345, 1296), (1333, 1358, 1313), (1321, 1348), [(1340, 1325, 1365)], (1352, 1360, 1328), (1370, 1350)),
]
for jp, jarr, r2t, blues, red, r1t in currents:
    ftext(jp[0] - 1, jp[1], 'J', size=27, ha='right')
    ftext(jp[0] - 0.5, jp[1] + 2, 'P', size=25, ha='left')
    farrow(jarr[0], jarr[2], jarr[1], jarr[2], 'black', 4.5, '-|>,head_length=22,head_width=9')
    ftext(r2t[0], r2t[1], 'R2', color='#0000FF', size=28)
    for bx, by0, by1 in blues:
        farrow(bx, by0, bx, by1, '#0000FF', 4.0, '-|>,head_length=26,head_width=9')
    farrow(red[0], red[1], red[0], red[2], '#FF0000', 4.0, '-|>,head_length=26,head_width=9')
    ftext(r1t[0], r1t[1], 'R1', color='#FF0000', size=28)

fig.savefig('out.png', dpi=100)
